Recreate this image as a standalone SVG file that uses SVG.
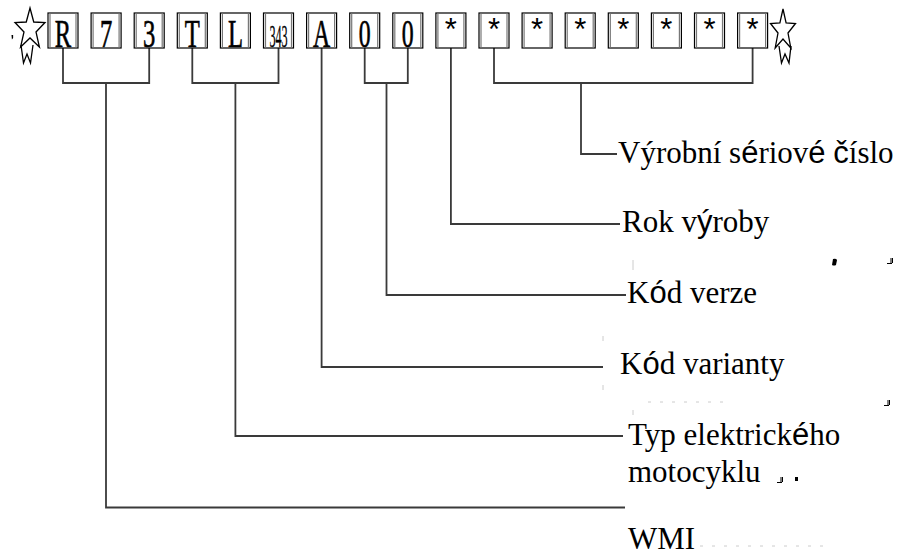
<svg xmlns="http://www.w3.org/2000/svg" width="913" height="556" viewBox="0 0 913 556">
<style>
.bxr{fill:#fff;stroke:#000;stroke-width:1.2}
.bxl{stroke:#777;stroke-width:1.2}
.ch{font-family:"Liberation Serif",serif;font-size:41px;fill:#000;stroke:#000;stroke-width:0.7;text-anchor:middle}
.ast{font-family:"Liberation Sans",sans-serif;font-size:31px;fill:#000;text-anchor:middle}
.lbl{font-family:"Liberation Serif",serif;font-size:31px;fill:#000}
.s{font-family:"Liberation Sans",sans-serif}
.conn{fill:none;stroke:#3a3a3a;stroke-width:1.8}
.star{fill:#fff;stroke:#000;stroke-width:1.3;stroke-linejoin:miter}
.mark{fill:#000}
.faint{stroke:#ccc;stroke-width:1;fill:none}
</style>
<defs>
<g id="bx"><rect class="bxr" x="0" y="13" width="30" height="35" fill="#fff" stroke="#000"/><line class="bxl" x1="2" y1="13.5" x2="2" y2="47.5" stroke="#777"/><line class="bxl" x1="28" y1="13.5" x2="28" y2="47.5" stroke="#777"/></g>
</defs>

<g id="connectors">
<path class="conn" d="M63,48 V83 H149.2 V48 M106,83 V507.5 H625"/>
<path class="conn" d="M192.3,48 V83 H278.5 V48 M235.4,83 V436 H623"/>
<path class="conn" d="M321.6,48 V367 H603"/>
<path class="conn" d="M364.7,48 V83 H407.8 V48 M386.5,83 V295 H626"/>
<path class="conn" d="M450.9,48 V224 H620"/>
<path class="conn" d="M494,48 V83 H752.6 V48 M581,83 V154 H617"/>
</g>

<g id="star-left">
<path class="star" d="M21,45 L23.5,63 L27,54 L30.5,63 L33,45"/>
<path class="star" d="M30,8 L33.75,22 L45,22.5 L36,32 L39.4,47 L30,38 L20.6,47 L24,32 L15,22.5 L26.25,22 Z"/>
<path class="mark" d="M11.5,35 h1.6 v3 l-1.2,1.5 z"/>
</g>
<g id="star-right">
<path class="star" d="M779,46 L781.5,63 L785,54 L789,63 L791,46"/>
<path class="star" d="M783,9 L786.1,23 L795.5,23.5 L788,33 L790.8,48 L783,39 L775.2,48 L778,33 L770.5,23.5 L779.9,23 Z"/>
</g>

<g id="box-1"><use href="#bx" x="48"/><text class="ch" transform="translate(63,46.5) scale(0.6,1)">R</text></g>
<g id="box-2"><use href="#bx" x="91.1"/><text class="ch" transform="translate(106.1,46.5) scale(0.6,1)">7</text></g>
<g id="box-3"><use href="#bx" x="134.2"/><text class="ch" transform="translate(149.2,46.5) scale(0.6,1)">3</text></g>
<g id="box-4"><use href="#bx" x="177.3"/><text class="ch" transform="translate(192.3,46.5) scale(0.6,1)">T</text></g>
<g id="box-5"><use href="#bx" x="220.4"/><text class="ch" transform="translate(235.4,46.5) scale(0.6,1)">L</text></g>
<g id="box-6"><use href="#bx" x="263.5"/><text class="ch" style="font-size:32px;stroke-width:0.3" transform="translate(278.5,46.5) scale(0.38,1)">343</text></g>
<g id="box-7"><use href="#bx" x="306.6"/><text class="ch" transform="translate(321.6,46.5) scale(0.58,1)">A</text></g>
<g id="box-8"><use href="#bx" x="349.7"/><text class="ch" transform="translate(364.7,46.5) scale(0.58,1)">0</text></g>
<g id="box-9"><use href="#bx" x="392.8"/><text class="ch" transform="translate(407.8,46.5) scale(0.58,1)">0</text></g>
<g id="box-10"><use href="#bx" x="435.9"/><text class="ast" x="450.9" y="40">*</text></g>
<g id="box-11"><use href="#bx" x="479"/><text class="ast" x="494" y="40">*</text></g>
<g id="box-12"><use href="#bx" x="522.1"/><text class="ast" x="537.1" y="40">*</text></g>
<g id="box-13"><use href="#bx" x="565.2"/><text class="ast" x="580.2" y="40">*</text></g>
<g id="box-14"><use href="#bx" x="608.3"/><text class="ast" x="623.3" y="40">*</text></g>
<g id="box-15"><use href="#bx" x="651.4"/><text class="ast" x="666.4" y="40">*</text></g>
<g id="box-16"><use href="#bx" x="694.5"/><text class="ast" x="709.5" y="40">*</text></g>
<g id="box-17"><use href="#bx" x="737.6"/><text class="ast" x="752.6" y="40">*</text></g>

<g id="label-serial"><text class="lbl" x="618" y="163">Výrobní s<tspan class="s">é</tspan>riov<tspan class="s">é</tspan> <tspan class="s">č</tspan>íslo</text></g>
<g id="label-year"><text class="lbl" x="622" y="232">Rok v<tspan class="s">ý</tspan>roby</text></g>
<g id="label-version"><text class="lbl" x="627" y="303">K<tspan class="s">ó</tspan>d verze</text></g>
<g id="label-variant"><text class="lbl" x="620" y="374">K<tspan class="s">ó</tspan>d varianty</text></g>
<g id="label-type"><text class="lbl" x="628" y="445">Typ elektrick<tspan class="s">é</tspan>ho</text><text class="lbl" x="628" y="482">motocyklu</text></g>
<g id="label-wmi"><text class="lbl" x="628" y="549">WMI</text></g>

<g id="stray-marks">
<path class="mark" d="M833,259 q3,-1 4,1 l-1,5 q-2,1 -4,0 z"/>
<path d="M887,263.5 h5 M891,258 v5 M892.5,258 v5" stroke="#000" stroke-width="1" fill="none"/>
<path d="M884,405.5 h5 M888,400 v5 M889.5,400 v5" stroke="#000" stroke-width="1" fill="none"/>
<path d="M777,482.5 h5 M781,477 v5 M782.5,477 v5" stroke="#000" stroke-width="1" fill="none"/>
<rect class="mark" x="795" y="477" width="3" height="4"/>
<path class="faint" d="M633,260 v10 M603,336 v5 M603,385 v5 M633,410 v5"/>
<path class="faint" stroke-dasharray="3,9" d="M648,402 H725 M700,546 H830"/>
</g>
</svg>
